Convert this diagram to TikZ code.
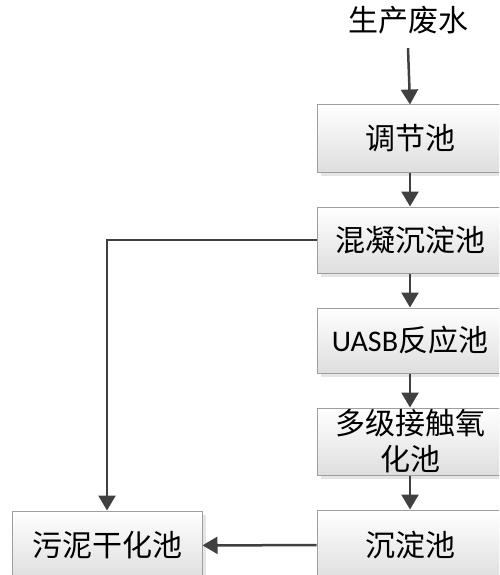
\documentclass[tikz,border=0pt]{standalone}
\usepackage{fontspec}
\setmainfont{Carlito}
\newfontfamily\cjk{Noto Sans CJK SC}
\usetikzlibrary{arrows.meta,shadows}
\begin{document}
\begin{tikzpicture}[x=1pt,y=-1pt,
  box/.style={draw=black!38, line width=1pt, top color=white, bottom color=black!13,
    minimum width=186pt, minimum height=67pt, inner sep=0pt, align=center,
    font=\fontsize{30}{36}\selectfont,
    drop shadow={shadow xshift=4pt, shadow yshift=-4pt, fill=black!10, opacity=1}},
  flow/.style={draw=black!75, line width=2.5pt, -{Triangle[length=15pt,width=17pt]}}]
\clip (0,0) rectangle (499,575);
\node[font=\fontsize{30}{36}\selectfont\cjk, inner sep=0pt] (src) at (408,20) {生产废水};
\node[box] (b1) at (410,138.5) {\cjk 调节池};
\node[box, minimum height=66pt] (b2) at (410,240) {\cjk 混凝沉淀池};
\node[box, minimum height=65pt] (b3) at (410,340.5) {UASB\cjk 反应池};
\node[box] (b4) at (410,441.5) {\cjk 多级接触氧\\\cjk 化池};
\node[box, minimum height=70pt] (b5) at (410,545) {\cjk 沉淀池};
\node[box, minimum width=190pt, minimum height=69pt] (b6) at (107,545.5) {\cjk 污泥干化池};
\draw[flow] ([yshift=-14pt]src.south) -- (b1.north);
\draw[flow] (b1) -- (b2);
\draw[flow] (b2) -- (b3);
\draw[flow] (b3) -- (b4);
\draw[flow] (b4) -- (b5);
\draw[flow] (b5) -- (b6);
\draw[flow] (b2.west) -| (b6.north);
\end{tikzpicture}
\end{document}
